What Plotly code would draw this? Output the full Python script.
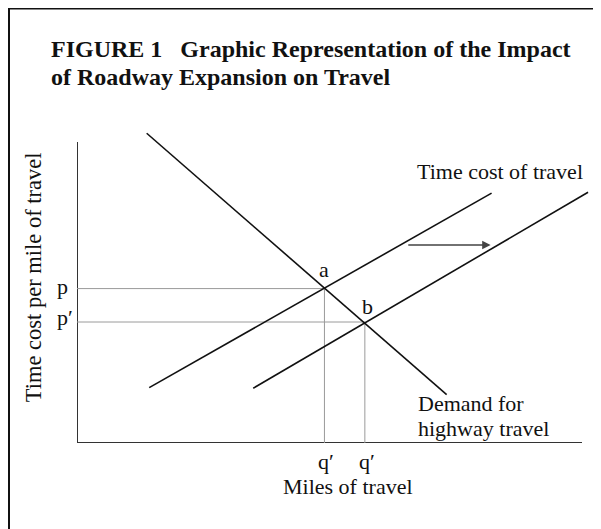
import plotly.graph_objects as go

# ---- data (abstract units: x = miles of travel, y = time cost per mile) ----
axis_x_end = 100.0
axis_y_end = 100.0

demand_x = [13.8, 73.2]
demand_y = [102.9, 16.1]

supply1_x = [14.3, 82.1]
supply1_y = [18.4, 83.0]

supply2_x = [34.9, 101.2]
supply2_y = [18.2, 83.3]

eq_a = (49.0, 51.3)   # (q', p)
eq_b = (57.0, 40.2)   # (q', p')

shift_arrow_x = [65.3, 81.9]
shift_arrow_y = 65.8

point_labels = ["a", "b"]
price_labels = ["p", "p\u2032"]
qty_labels = ["q\u2032", "q\u2032"]

title_lines = ["<b>FIGURE 1\u00a0\u00a0\u00a0Graphic Representation of the Impact</b>",
               "<b>of Roadway Expansion on Travel</b>"]

FONT = "Liberation Serif"
TXT = "#111111"
FS = 22

W, H = 593, 521          # page body has an 8px margin
L, R, T, B = 69, 9, 122, 86
pw, ph = W - L - R, H - T - B
xpx, ypx = 5.05, 3.01
XMAX, YMAX = pw / xpx, ph / ypx

fig = go.Figure()

# axes spines
fig.add_trace(go.Scatter(x=[0, 0, axis_x_end], y=[axis_y_end, 0, 0], mode="lines",
                         line=dict(color="#333333", width=2), hoverinfo="skip"))
# guide lines
for (qx, py) in [eq_a, eq_b]:
    fig.add_trace(go.Scatter(x=[0, qx, qx], y=[py, py, 0], mode="lines",
                             line=dict(color="#9a9a9a", width=1), hoverinfo="skip"))
# curves
for xs, ys in [(demand_x, demand_y), (supply1_x, supply1_y), (supply2_x, supply2_y)]:
    fig.add_trace(go.Scatter(x=xs, y=ys, mode="lines",
                             line=dict(color="#111111", width=1.6), hoverinfo="skip"))

ann = []
def t(x, y, s, size=FS, xanchor="center", yanchor="middle", xshift=0, angle=0):
    ann.append(dict(x=x / XMAX, y=y / YMAX, xref="paper", yref="paper", text=s, showarrow=False,
                    xanchor=xanchor, yanchor=yanchor, xshift=xshift, textangle=angle,
                    borderpad=0,
                    font=dict(family=FONT, size=size, color=TXT)))

t(83.8, 90.2, "Time cost of travel")
t(67.3, 13.1, "Demand for", xanchor="left")
t(67.3, 4.8, "highway travel", xanchor="left")
t(eq_a[0], 57.5, point_labels[0])
t(eq_b[0] + 0.5, 45.5, point_labels[1])
t(eq_a[0], -6.0, qty_labels[0], xshift=2)
t(eq_b[0], -6.0, qty_labels[1], xshift=2)
t(-4.2, eq_a[1] + 0.6, price_labels[0], xanchor="left")
t(-4.2, eq_b[1] + 1.6, price_labels[1], xanchor="left")
t(53.7, -14.3, "Miles of travel")
t(-8.7, 55.1, "Time cost per mile of travel", size=22.5, angle=-90)

# shift arrow
ann.append(dict(x=shift_arrow_x[1], y=shift_arrow_y, ax=shift_arrow_x[0], ay=shift_arrow_y,
                xref="x", yref="y", axref="x", ayref="y", showarrow=True,
                arrowhead=2, arrowsize=1.2, arrowwidth=1.4, arrowcolor="#444444", text=""))

# title (two lines, pixel-placed)
for i, line in enumerate(title_lines):
    ann.append(dict(x=(42 - L) / pw, y=(H - B - (41 + 28 * i)) / ph, xref="paper", yref="paper",
                    text=line, showarrow=False, xanchor="left", yanchor="middle", align="left",
                    borderpad=0,
                    font=dict(family=FONT, size=24, color=TXT)))

fig.update_layout(
    width=W, height=H, margin=dict(l=L, r=R, t=T, b=B),
    paper_bgcolor="white", plot_bgcolor="white", showlegend=False,
    xaxis=dict(range=[0, XMAX], visible=False),
    yaxis=dict(range=[0, YMAX], visible=False),
    annotations=ann,
    shapes=[dict(type="rect", xref="paper", yref="paper",
                 x0=(1 - L) / pw, x1=1.2, y0=-0.5, y1=(H - B - 0.5) / ph,
                 line=dict(color="#111111", width=2), fillcolor="rgba(0,0,0,0)", layer="below")],
)
fig.write_html("out.html")
